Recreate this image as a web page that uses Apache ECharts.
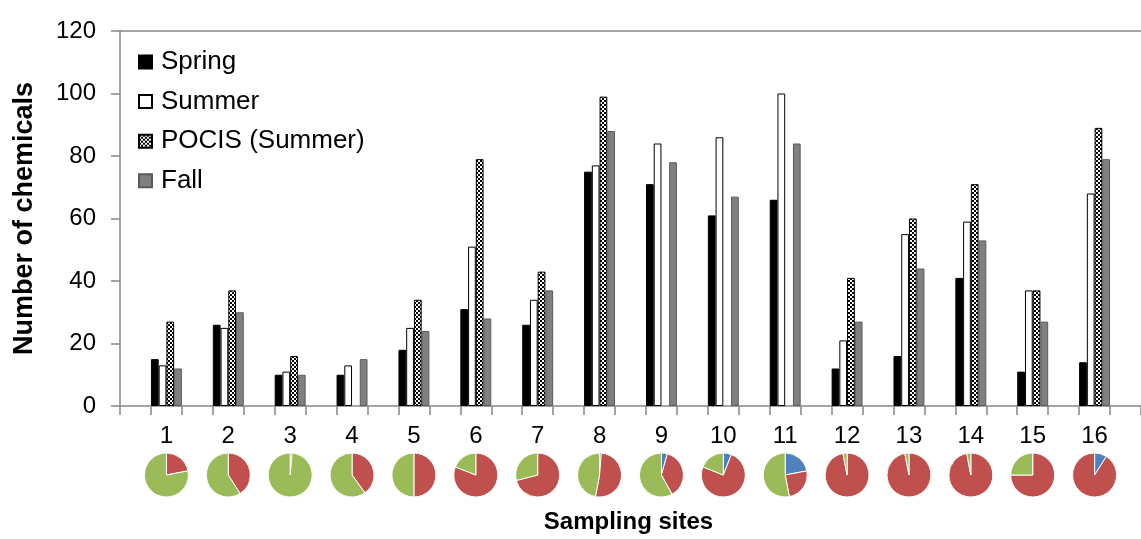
<!DOCTYPE html>
<html>
<head>
<meta charset="utf-8">
<script src="https://cdn.jsdelivr.net/npm/echarts@6/dist/echarts.min.js"></script>
<style>
  html, body { margin: 0; padding: 0; background: #fff; }
  #chart { width: 1141px; height: 539px; }
</style>
</head>
<body>
<div id="chart"></div>
<script>
// Sampling sites and number of chemicals detected per campaign
const sites = ['1','2','3','4','5','6','7','8','9','10','11','12','13','14','15','16'];
const spring = [15, 26, 10, 10, 18, 31, 26, 75, 71, 61, 66, 12, 16, 41, 11, 14];
const summer = [13, 25, 11, 13, 25, 51, 34, 77, 84, 86, 100, 21, 55, 59, 37, 68];
const pocis  = [27, 37, 16, null, 34, 79, 43, 99, null, null, null, 41, 60, 71, 37, 89];
const fall   = [12, 30, 10, 15, 24, 28, 37, 88, 78, 67, 84, 27, 44, 53, 27, 79];
const yTicks = [0, 20, 40, 60, 80, 100, 120];

// Composition shares (%) shown as a small pie under each site
const pieBlue  = [0, 0, 0, 0, 0, 0, 0, 1.3, 4.3, 6, 22, 0, 0, 0, 0, 9];
const pieRed   = [22, 41, 1.5, 40, 50, 81, 71, 51.7, 37.7, 75, 25, 97, 97, 97, 75, 91];
const pieGreen = [78, 59, 98.5, 60, 50, 19, 29, 47, 58, 19, 53, 3, 3, 3, 25, 0];

const FONT = '"Liberation Sans", Arial, sans-serif';
const AXIS_GRAY = '#868686';

// Each site sits between two spacer slots on the category axis
const categories = [''];
sites.forEach(s => { categories.push(s, ''); });
const spread = vals => {
  const out = ['-'];
  vals.forEach(v => { out.push(v == null ? '-' : v, '-'); });
  return out;
};

function checkerPattern() {
  const c = document.createElement('canvas');
  c.width = 4; c.height = 4;
  const g = c.getContext('2d');
  g.fillStyle = '#ffffff';
  g.fillRect(0, 0, 4, 4);
  g.fillStyle = '#000000';
  g.fillRect(0, 0, 2, 2);
  g.fillRect(2, 2, 2, 2);
  return c;
}

const barBase = { type: 'bar', barGap: '0%', barCategoryGap: '0%', silent: true };
const barSeries = [
  Object.assign({}, barBase, { name: 'Spring', data: spread(spring),
    itemStyle: { color: '#000000', borderColor: '#000000', borderWidth: 1 } }),
  Object.assign({}, barBase, { name: 'Summer', data: spread(summer),
    itemStyle: { color: '#ffffff', borderColor: '#000000', borderWidth: 1 } }),
  Object.assign({}, barBase, { name: 'POCIS (Summer)', data: spread(pocis),
    itemStyle: { color: { image: checkerPattern(), repeat: 'repeat' }, borderColor: '#000000', borderWidth: 1 } }),
  Object.assign({}, barBase, { name: 'Fall', data: spread(fall),
    itemStyle: { color: '#808080', borderColor: '#5a5a5a', borderWidth: 1 } })
];

const chart = echarts.init(document.getElementById('chart'), null, { renderer: 'canvas' });

const option = {
  animation: false,
  backgroundColor: '#ffffff',
  textStyle: { fontFamily: FONT },
  grid: { left: 120, right: -13, top: 31, bottom: 133, containLabel: false },
  legend: {
    data: barSeries.map(s => s.name),
    orient: 'vertical',
    left: 133,
    top: 44,
    padding: 5,
    itemWidth: 13,
    itemHeight: 13,
    itemGap: 13.6,
    icon: 'rect',
    selectedMode: false,
    textStyle: { fontFamily: FONT, fontSize: 26, color: '#000', lineHeight: 26, padding: [0, 0, 0, 4] }
  },
  xAxis: [
    {
      type: 'category',
      data: categories,
      boundaryGap: true,
      name: 'Sampling sites',
      nameLocation: 'middle',
      nameGap: 104,
      nameTextStyle: { fontFamily: FONT, fontSize: 24, fontWeight: 'bold', color: '#000', padding: [0, 4, 0, 0] },
      axisLine: { show: true, lineStyle: { color: AXIS_GRAY, width: 1.5 } },
      axisTick: { show: true, interval: 0, length: 9, lineStyle: { color: AXIS_GRAY, width: 1.5 } },
      axisLabel: { interval: 0, fontFamily: FONT, fontSize: 24, color: '#000', margin: 18 },
      splitLine: { show: false }
    },
    {
      // top border of the plot area
      type: 'category',
      data: categories,
      position: 'top',
      axisLine: { show: true, lineStyle: { color: AXIS_GRAY, width: 1.5 } },
      axisTick: { show: false },
      axisLabel: { show: false },
      splitLine: { show: false }
    }
  ],
  yAxis: {
    type: 'value',
    min: yTicks[0],
    max: yTicks[yTicks.length - 1],
    interval: yTicks[1] - yTicks[0],
    name: 'Number of chemicals',
    nameLocation: 'middle',
    nameGap: 82,
    nameTextStyle: { fontFamily: FONT, fontSize: 27, fontWeight: 'bold', color: '#000' },
    axisLine: { show: true, lineStyle: { color: AXIS_GRAY, width: 1.5 } },
    axisTick: { show: true, length: 9, lineStyle: { color: AXIS_GRAY, width: 1.5 } },
    axisLabel: { fontFamily: FONT, fontSize: 24, color: '#000', margin: 24 },
    splitLine: { show: false }
  },
  series: barSeries
};

chart.setOption(option);

// Place a pie under each site, centred on that site's slot of the category axis
const PIE_Y = 475;
const pieSeries = sites.map((s, i) => {
  const x = chart.convertToPixel({ xAxisIndex: 0 }, 2 * i + 1);
  const slices = [
    { name: 'blue', value: pieBlue[i], itemStyle: { color: '#4F81BD' } },
    { name: 'red', value: pieRed[i], itemStyle: { color: '#C0504D' } },
    { name: 'green', value: pieGreen[i], itemStyle: { color: '#9BBB59' } }
  ].filter(d => d.value > 0);
  return {
    type: 'pie',
    name: 'site ' + s,
    center: [x, PIE_Y],
    radius: 22,
    startAngle: 90,
    clockwise: true,
    silent: true,
    label: { show: false },
    labelLine: { show: false },
    itemStyle: { borderColor: '#ffffff', borderWidth: 1 },
    emphasis: { disabled: true },
    data: slices
  };
});

chart.setOption({ series: barSeries.concat(pieSeries) });
</script>
</body>
</html>
